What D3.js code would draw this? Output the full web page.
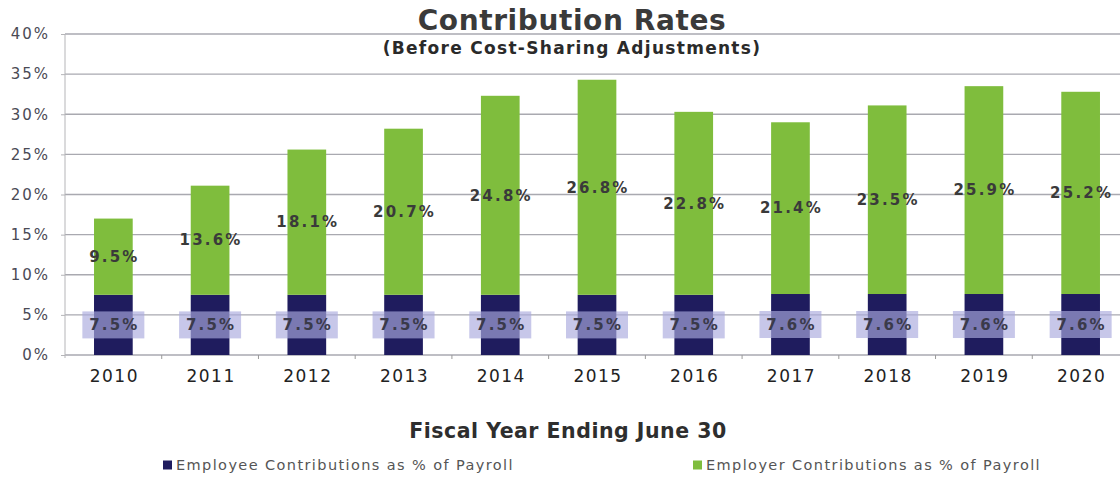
<!DOCTYPE html>
<html>
<head>
<meta charset="utf-8">
<script src="https://cdn.jsdelivr.net/npm/d3@7"></script>
<style>
  html, body { margin: 0; padding: 0; background: #fff; }
  svg { display: block; }
</style>
</head>
<body>
<svg id="chart" width="1120" height="478"></svg>
<script>
// Fiscal years and contribution rates (% of payroll)
const years = ["2010", "2011", "2012", "2013", "2014", "2015", "2016", "2017", "2018", "2019", "2020"];
const employeeRates = [7.5, 7.5, 7.5, 7.5, 7.5, 7.5, 7.5, 7.6, 7.6, 7.6, 7.6];
const employerRates = [9.5, 13.6, 18.1, 20.7, 24.8, 26.8, 22.8, 21.4, 23.5, 25.9, 25.2];
const yTicks = [0, 5, 10, 15, 20, 25, 30, 35, 40];
const seriesNames = ["Employee Contributions as % of Payroll", "Employer Contributions as % of Payroll"];

const colors = { employee: "#1f1c5e", employer: "#7fbd3d" };
const FONT = "Verdana, 'DejaVu Sans', sans-serif";

const svg = d3.select("#chart");
const plot = { left: 65, right: 1129, top: 34, bottom: 355 };

const x = d3.scaleBand()
  .domain(years)
  .range([plot.left, plot.right])
  .paddingInner(0.6)
  .paddingOuter(0.3);

const y = d3.scaleLinear()
  .domain([0, 40])
  .range([plot.bottom, plot.top]);

// Horizontal gridlines
svg.append("g")
  .selectAll("line")
  .data(yTicks)
  .join("line")
  .attr("x1", plot.left)
  .attr("x2", 1120)
  .attr("y1", d => y(d))
  .attr("y2", d => y(d))
  .attr("stroke", "#a9a9b0")
  .attr("stroke-width", 1.3);

// Vertical axis line
svg.append("line")
  .attr("x1", plot.left).attr("x2", plot.left)
  .attr("y1", plot.top).attr("y2", plot.bottom + 3)
  .attr("stroke", "#b5b5b8").attr("stroke-width", 1);

// Y axis labels
const yAxis = d3.axisLeft(y)
  .tickValues(yTicks)
  .tickFormat(d => d + "%")
  .tickSize(4)
  .tickPadding(11);
const gy = svg.append("g")
  .attr("transform", `translate(${plot.left},0)`)
  .call(yAxis);
gy.select(".domain").remove();
gy.selectAll(".tick line").attr("stroke", "#b5b5b8");
gy.selectAll("text")
  .attr("font-family", FONT)
  .attr("font-size", 15)
  .attr("letter-spacing", 2)
  .attr("fill", "#4a4a55");

// X axis: category labels and small boundary ticks
const xAxis = d3.axisBottom(x).tickSize(0).tickPadding(15);
const gx = svg.append("g")
  .attr("transform", `translate(0,${plot.bottom})`)
  .call(xAxis);
gx.select(".domain").remove();
gx.selectAll("text")
  .attr("x", 1)
  .attr("font-family", FONT)
  .attr("font-size", 17)
  .attr("letter-spacing", 1.5)
  .attr("fill", "#222");

svg.append("g")
  .selectAll("line")
  .data(years.slice(1))
  .join("line")
  .attr("x1", d => x(d) - x.step() * x.paddingInner() / 2)
  .attr("x2", d => x(d) - x.step() * x.paddingInner() / 2)
  .attr("y1", plot.bottom)
  .attr("y2", plot.bottom + 4)
  .attr("stroke", "#999");

// Stacked bars
const rows = years.map((yr, i) => ({ year: yr, employee: employeeRates[i], employer: employerRates[i] }));

svg.append("g")
  .selectAll("rect")
  .data(rows)
  .join("rect")
  .attr("x", d => x(d.year))
  .attr("width", x.bandwidth())
  .attr("y", d => y(d.employee))
  .attr("height", d => y(0) - y(d.employee))
  .attr("fill", colors.employee);

svg.append("g")
  .selectAll("rect")
  .data(rows)
  .join("rect")
  .attr("x", d => x(d.year))
  .attr("width", x.bandwidth())
  .attr("y", d => y(d.employee + d.employer))
  .attr("height", d => y(d.employee) - y(d.employee + d.employer))
  .attr("fill", colors.employer);

// Employer value labels, centred in the green segment
svg.append("g")
  .selectAll("text")
  .data(rows)
  .join("text")
  .attr("x", d => x(d.year) + x.bandwidth() / 2 + 1)
  .attr("y", d => y(d.employee + d.employer / 2))
  .attr("dy", "0.35em")
  .attr("text-anchor", "middle")
  .attr("font-family", FONT)
  .attr("font-weight", "bold")
  .attr("font-size", 15)
  .attr("letter-spacing", 2.2)
  .attr("fill", "#3a3a3a")
  .text(d => d.employer.toFixed(1) + "%");

// Employee value labels on a translucent lavender plate
const empLabels = svg.append("g")
  .selectAll("g")
  .data(rows)
  .join("g")
  .attr("transform", d => `translate(${x(d.year) + x.bandwidth() / 2},${y(d.employee / 2)})`);

empLabels.append("rect")
  .attr("x", -31)
  .attr("y", -13.5)
  .attr("width", 62)
  .attr("height", 27)
  .attr("fill", "rgb(170,170,222)")
  .attr("opacity", 0.66);

empLabels.append("text")
  .attr("x", 1)
  .attr("dy", "0.35em")
  .attr("text-anchor", "middle")
  .attr("font-family", FONT)
  .attr("font-weight", "bold")
  .attr("font-size", 15)
  .attr("letter-spacing", 2.2)
  .attr("fill", "#3a3a4a")
  .text(d => d.employee.toFixed(1) + "%");

// Titles
svg.append("text")
  .attr("x", 572).attr("y", 30)
  .attr("text-anchor", "middle")
  .attr("font-family", FONT)
  .attr("font-weight", "bold")
  .attr("font-size", 28)
  .attr("letter-spacing", 0.6)
  .attr("fill", "#3a3a3a")
  .text("Contribution Rates");

svg.append("text")
  .attr("x", 572).attr("y", 54)
  .attr("text-anchor", "middle")
  .attr("font-family", FONT)
  .attr("font-weight", "bold")
  .attr("font-size", 17)
  .attr("letter-spacing", 1.3)
  .attr("fill", "#2a2a2a")
  .text("(Before Cost-Sharing Adjustments)");

svg.append("text")
  .attr("x", 568).attr("y", 438)
  .attr("text-anchor", "middle")
  .attr("font-family", FONT)
  .attr("font-weight", "bold")
  .attr("font-size", 20.5)
  .attr("letter-spacing", 0.5)
  .attr("fill", "#2e2e2e")
  .text("Fiscal Year Ending June 30");

// Legend
const legendItems = [
  { name: seriesNames[0], color: colors.employee, x: 163 },
  { name: seriesNames[1], color: colors.employer, x: 693 }
];
const lg = svg.append("g")
  .selectAll("g")
  .data(legendItems)
  .join("g")
  .attr("transform", d => `translate(${d.x},465)`);
lg.append("rect")
  .attr("x", 0).attr("y", -4.5)
  .attr("width", 9).attr("height", 9)
  .attr("fill", d => d.color);
lg.append("text")
  .attr("x", 13)
  .attr("dy", "0.35em")
  .attr("font-family", FONT)
  .attr("font-size", 14.5)
  .attr("letter-spacing", 1.4)
  .attr("fill", "#555")
  .text(d => d.name);
</script>
</body>
</html>
